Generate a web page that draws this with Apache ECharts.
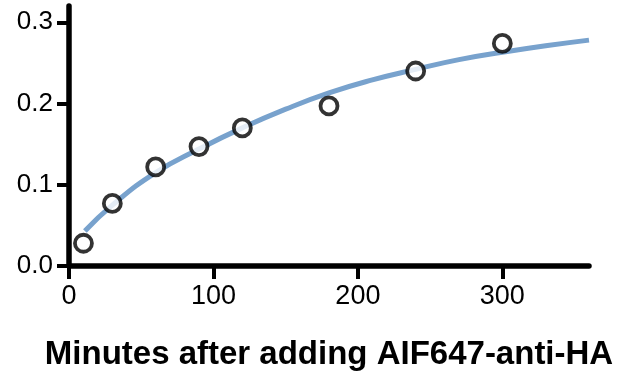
<!DOCTYPE html>
<html>
<head>
<meta charset="utf-8">
<script src="https://cdn.jsdelivr.net/npm/echarts@6/dist/echarts.min.js"></script>
<style>
  html, body { margin: 0; padding: 0; background: #fff; }
  #chart { width: 636px; height: 372px; }
</style>
</head>
<body>
<div id="chart"></div>
<script>
// measured points
var pointMinutes = [10, 30, 60, 90, 120, 180, 240, 300];
var pointValues = [0.028, 0.077, 0.122, 0.147, 0.170, 0.197, 0.240, 0.274];

// fitted curve
var fitMinutes = [11, 30, 60, 90, 120, 150, 180, 210, 240, 270, 300, 330, 360];
var fitValues = [0.043, 0.075, 0.115, 0.144, 0.170, 0.193, 0.213, 0.229, 0.242, 0.254, 0.263, 0.271, 0.278];

var xTicks = [0, 100, 200, 300];
var yTicks = [0, 0.1, 0.2, 0.3];

var font = 'Liberation Sans, Arial, sans-serif';

var option = {
    animation: false,
    grid: {
        left: 69,
        right: 47,
        top: 6,
        bottom: 106,
        outerBoundsMode: 'none'
    },
    xAxis: {
        type: 'value',
        min: 0,
        max: 360,
        name: 'Minutes after adding AIF647-anti-HA',
        nameLocation: 'middle',
        nameGap: 72,
        nameTextStyle: {
            fontFamily: font,
            fontSize: 33,
            fontWeight: 'bold',
            color: '#000'
        },
        splitLine: { show: false },
        axisLine: { lineStyle: { color: '#000', width: 5.5 } },
        axisTick: {
            customValues: xTicks,
            length: 13,
            lineStyle: { color: '#000', width: 4 }
        },
        axisLabel: {
            customValues: xTicks,
            margin: 17,
            fontFamily: font,
            fontSize: 27,
            color: '#000'
        }
    },
    yAxis: {
        type: 'value',
        min: 0,
        max: 0.32,
        splitLine: { show: false },
        axisLine: { show: true, lineStyle: { color: '#000', width: 5.5 } },
        axisTick: {
            show: true,
            customValues: yTicks,
            length: 12,
            lineStyle: { color: '#000', width: 4 }
        },
        axisLabel: {
            customValues: yTicks,
            margin: 16,
            fontFamily: font,
            fontSize: 26,
            color: '#000',
            formatter: function (v) { return v.toFixed(1); }
        }
    },
    series: [
        {
            type: 'line',
            data: fitMinutes.map(function (x, i) { return [x, fitValues[i]]; }),
            smooth: true,
            showSymbol: false,
            lineStyle: { color: '#78a2cd', width: 5 },
            z: 1
        },
        {
            type: 'scatter',
            data: pointMinutes.map(function (x, i) { return [x, pointValues[i]]; }),
            symbol: 'circle',
            symbolSize: 17,
            itemStyle: {
                color: '#fff',
                borderColor: '#000',
                borderWidth: 3.8
            },
            z: 3
        }
    ]
};

var chart = echarts.init(document.getElementById('chart'));
chart.setOption(option);
</script>
</body>
</html>
